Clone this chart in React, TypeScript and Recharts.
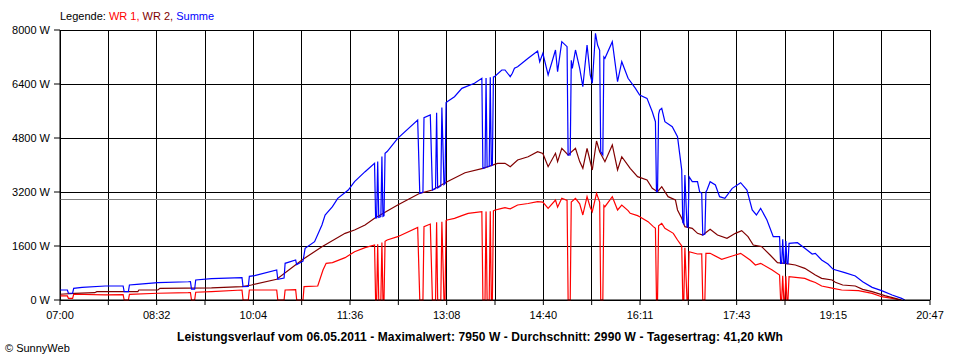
import { LineChart, Line, XAxis, YAxis, CartesianGrid, ReferenceLine } from "recharts"

// Werte: [Uhrzeit, Leistung in W]
const wr1Werte: [string, number][] = [
  ["07:00", 120], ["07:07", 120], ["07:08", 50], ["07:12", 50], ["07:13", 170], ["07:43", 150],
  ["08:00", 160], ["08:01", 0], ["08:05", 0], ["08:06", 165], ["08:33", 200], ["09:02", 217],
  ["09:04", 220], ["09:05", 0], ["09:08", 0], ["09:09", 230], ["09:24", 246], ["09:53", 296],
  ["09:54", 0], ["09:59", 0], ["10:00", 296], ["10:26", 296], ["10:27", 0], ["10:33", 0],
  ["10:34", 296], ["10:44", 310], ["10:45", 0], ["10:51", 0], ["10:52", 395], ["11:05", 415],
  ["11:10", 889], ["11:13", 1087], ["11:19", 1106], ["11:31", 1254], ["11:40", 1432], ["11:50", 1550],
  ["11:59", 1630], ["12:00", 0], ["12:01", 0], ["12:02", 1650], ["12:03", 0], ["12:05", 0],
  ["12:06", 1700], ["12:07", 0], ["12:08", 0], ["12:09", 1740], ["12:11", 1778], ["12:21", 1876],
  ["12:40", 2153], ["12:42", 0], ["12:45", 0], ["12:46", 2170], ["12:52", 2250], ["12:54", 0],
  ["12:57", 0], ["12:58", 2300], ["12:59", 0], ["13:02", 0], ["13:03", 2320], ["13:05", 0],
  ["13:06", 0], ["13:07", 2350], ["13:08", 2370], ["13:15", 2420], ["13:22", 2500], ["13:28", 2568],
  ["13:41", 2617], ["13:42", 0], ["13:44", 0], ["13:45", 2620], ["13:46", 0], ["13:48", 0],
  ["13:49", 2630], ["13:50", 0], ["13:51", 0], ["13:52", 2640], ["13:53", 2660], ["14:00", 2716],
  ["14:03", 2735], ["14:08", 2700], ["14:15", 2815], ["14:25", 2860], ["14:34", 2913], ["14:39", 2900],
  ["14:44", 2716], ["14:51", 2963], ["14:53", 2750], ["14:57", 3013], ["15:02", 2950], ["15:03", 0],
  ["15:05", 0], ["15:06", 2900], ["15:10", 3013], ["15:14", 2850], ["15:17", 2519], ["15:21", 3062],
  ["15:24", 2750], ["15:26", 2617], ["15:30", 3161], ["15:33", 2900], ["15:34", 0], ["15:36", 0],
  ["15:37", 2800], ["15:38", 2765], ["15:45", 3062], ["15:50", 2667], ["15:54", 2815], ["16:00", 2650],
  ["16:02", 2568], ["16:09", 2500], ["16:11", 2469], ["16:19", 2321], ["16:24", 2173], ["16:26", 2124],
  ["16:27", 0], ["16:28", 0], ["16:29", 2200], ["16:32", 2272], ["16:35", 2124], ["16:43", 1975],
  ["16:47", 1778], ["16:51", 1600], ["16:52", 0], ["16:53", 0], ["16:54", 1550], ["16:56", 0],
  ["16:57", 0], ["16:58", 1432], ["17:06", 1363], ["17:10", 1370], ["17:11", 0], ["17:13", 0],
  ["17:14", 1380], ["17:18", 1383], ["17:29", 1206], ["17:39", 1304], ["17:47", 1383], ["17:56", 1185],
  ["18:01", 1037], ["18:06", 1087], ["18:17", 889], ["18:24", 741], ["18:25", 0], ["18:26", 0],
  ["18:27", 720], ["18:28", 0], ["18:29", 0], ["18:30", 700], ["18:31", 0], ["18:32", 0],
  ["18:33", 691], ["18:48", 642], ["18:53", 573], ["18:58", 520], ["19:04", 415], ["19:15", 346],
  ["19:23", 296], ["19:39", 277], ["19:52", 198], ["20:01", 98], ["20:11", 50], ["20:19", 0],
]

const wr2Werte: [string, number][] = [
  ["07:00", 170], ["07:14", 198], ["07:33", 217], ["07:35", 246], ["08:14", 250], ["08:15", 296],
  ["08:33", 300], ["08:35", 346], ["09:24", 360], ["09:53", 395], ["10:02", 444], ["10:26", 613],
  ["10:50", 1185], ["11:09", 1580], ["11:31", 1975], ["11:40", 2074], ["11:50", 2222], ["11:59", 2420],
  ["12:21", 2815], ["12:42", 3161], ["12:54", 3259], ["13:08", 3506], ["13:25", 3772], ["13:42", 3902],
  ["13:56", 4050], ["14:03", 4050], ["14:08", 3950], ["14:15", 4148], ["14:25", 4246], ["14:34", 4394],
  ["14:39", 4340], ["14:44", 3950], ["14:51", 4346], ["14:53", 4100], ["14:57", 4494], ["15:03", 4296],
  ["15:10", 4494], ["15:14", 4100], ["15:17", 3902], ["15:21", 4494], ["15:26", 3852], ["15:30", 4711],
  ["15:33", 4394], ["15:38", 4098], ["15:45", 4593], ["15:50", 3852], ["15:54", 4246], ["16:02", 3902],
  ["16:09", 3654], ["16:18", 3556], ["16:23", 3309], ["16:28", 3210], ["16:32", 3358], ["16:38", 3062],
  ["16:45", 2963], ["16:47", 2667], ["16:51", 2420], ["16:54", 2173], ["17:01", 2124], ["17:06", 1975],
  ["17:11", 1926], ["17:18", 2094], ["17:25", 1926], ["17:34", 1827], ["17:42", 1975], ["17:48", 2055],
  ["17:54", 1876], ["17:59", 1630], ["18:07", 1580], ["18:15", 1333], ["18:22", 1106], ["18:29", 1087],
  ["18:39", 1037], ["18:48", 938], ["18:58", 740], ["19:04", 642], ["19:14", 593], ["19:17", 524],
  ["19:24", 444], ["19:36", 415], ["19:43", 316], ["19:52", 246], ["20:04", 128], ["20:14", 50],
  ["20:20", 0],
]

const summeWerte: [string, number][] = [
  ["07:00", 296], ["07:07", 296], ["07:08", 200], ["07:12", 200], ["07:13", 346], ["07:21", 376],
  ["07:43", 415], ["08:00", 415], ["08:01", 250], ["08:05", 250], ["08:06", 444], ["08:13", 465],
  ["08:33", 513], ["09:02", 540], ["09:04", 545], ["09:05", 320], ["09:08", 320], ["09:09", 593],
  ["09:24", 632], ["09:53", 661], ["09:54", 395], ["09:59", 400], ["10:00", 700], ["10:05", 721],
  ["10:26", 889], ["10:27", 613], ["10:33", 650], ["10:34", 1087], ["10:44", 1185], ["10:45", 1050],
  ["10:51", 1150], ["10:53", 1531], ["11:02", 1728], ["11:09", 2222], ["11:12", 2519], ["11:19", 2765],
  ["11:24", 3013], ["11:34", 3259], ["11:40", 3506], ["11:50", 3802], ["11:59", 4050], ["12:00", 2430],
  ["12:01", 2430], ["12:02", 4100], ["12:03", 2450], ["12:05", 2470], ["12:06", 4250], ["12:07", 2480],
  ["12:08", 2500], ["12:09", 4346], ["12:11", 4400], ["12:21", 4790], ["12:40", 5333], ["12:42", 3161],
  ["12:45", 3200], ["12:46", 5400], ["12:52", 5481], ["12:54", 3259], ["12:57", 3300], ["12:58", 5550],
  ["12:59", 3320], ["13:02", 3380], ["13:03", 5700], ["13:05", 3420], ["13:06", 3450], ["13:07", 5850],
  ["13:08", 5876], ["13:15", 6024], ["13:22", 6272], ["13:34", 6420], ["13:41", 6568], ["13:42", 3902],
  ["13:44", 3920], ["13:45", 6580], ["13:46", 3940], ["13:48", 3960], ["13:49", 6600], ["13:50", 3980],
  ["13:51", 4000], ["13:52", 6610], ["13:53", 6617], ["14:00", 6815], ["14:03", 6815], ["14:08", 6617],
  ["14:10", 6717], ["14:12", 6865], ["14:15", 6913], ["14:25", 7161], ["14:34", 7378], ["14:36", 7061],
  ["14:39", 7310], ["14:44", 6667], ["14:51", 7408], ["14:53", 6765], ["14:57", 7654], ["15:02", 7506],
  ["15:03", 4296], ["15:05", 4300], ["15:06", 7100], ["15:07", 6865], ["15:10", 7408], ["15:14", 6865],
  ["15:17", 6320], ["15:21", 7556], ["15:24", 6667], ["15:26", 6420], ["15:29", 7902], ["15:31", 7556],
  ["15:33", 7400], ["15:34", 4394], ["15:36", 4300], ["15:37", 7200], ["15:38", 7161], ["15:45", 7654],
  ["15:50", 6469], ["15:54", 7061], ["16:00", 6568], ["16:07", 6272], ["16:11", 6074], ["16:18", 5975],
  ["16:23", 5579], ["16:26", 5283], ["16:27", 3210], ["16:28", 3210], ["16:29", 5500], ["16:30", 5630],
  ["16:32", 5680], ["16:35", 5283], ["16:42", 5135], ["16:47", 4839], ["16:49", 4346], ["16:51", 3852],
  ["16:52", 2300], ["16:53", 2250], ["16:54", 3700], ["16:56", 2173], ["16:57", 2150], ["16:58", 3654],
  ["17:01", 3506], ["17:06", 3506], ["17:08", 3210], ["17:10", 3161], ["17:11", 1926], ["17:13", 1950],
  ["17:14", 3200], ["17:15", 3259], ["17:18", 3506], ["17:23", 3408], ["17:27", 3062], ["17:32", 3013],
  ["17:39", 3309], ["17:47", 3476], ["17:53", 3259], ["17:58", 2667], ["18:02", 2519], ["18:06", 2716],
  ["18:12", 2370], ["18:18", 1876], ["18:24", 1876], ["18:25", 1087], ["18:26", 1087], ["18:27", 1800],
  ["18:28", 1087], ["18:29", 1087], ["18:30", 1750], ["18:31", 1080], ["18:32", 1080], ["18:33", 1680],
  ["18:41", 1698], ["18:48", 1531], ["18:55", 1363], ["18:58", 1383], ["19:04", 1185], ["19:10", 1067],
  ["19:15", 909], ["19:26", 810], ["19:36", 711], ["19:43", 543], ["19:52", 375], ["20:01", 277],
  ["20:11", 148], ["20:20", 50], ["20:23", 0],
]

const yTicks = [0, 1600, 3200, 4800, 6400, 8000]
const xLabels = ["07:00", "08:32", "10:04", "11:36", "13:08", "14:40", "16:11", "17:43", "19:15", "20:47"]
const durchschnitt = 2990
const titel = "Leistungsverlauf vom 06.05.2011 - Maximalwert: 7950 W - Durchschnitt: 2990 W - Tagesertrag: 41,20 kWh"

const START = 7 * 60
const ENDE = 20 * 60 + 47
const STEP = (ENDE - START) / 18
const gridTicks = Array.from({ length: 19 }, (_, k) => START + k * STEP)

const FONT = "'Liberation Sans', Arial, sans-serif"

function toMin(s: string) {
  const [h, m] = s.split(":")
  return Number(h) * 60 + Number(m)
}

function toRows(werte: [string, number][]) {
  return werte.map(([t, v]) => ({ t: toMin(t), v }))
}

const wr1 = toRows(wr1Werte)
const wr2 = toRows(wr2Werte)
const summe = toRows(summeWerte)

export default function App() {
  return (
    <div style={{ position: "relative", width: 960, height: 360, background: "#fff", fontFamily: FONT }}>
      <style>{`body{margin:0}`}</style>

      {/* legende oben */}
      <div style={{ position: "absolute", left: 60, top: 11, fontSize: 11, lineHeight: "11px", whiteSpace: "nowrap" }}>
        <span style={{ color: "#000" }}>Legende: </span>
        <span style={{ color: "#ff0000" }}>WR 1, </span>
        <span style={{ color: "#800000" }}>WR 2, </span>
        <span style={{ color: "#0000ff" }}>Summe</span>
      </div>

      <LineChart width={960} height={360} margin={{ top: 30, right: 30, bottom: 30, left: 0 }}>
        <CartesianGrid stroke="#000" strokeWidth={1} horizontal vertical shapeRendering="crispEdges" />
        <XAxis
          dataKey="t"
          type="number"
          domain={[START, ENDE]}
          ticks={gridTicks}
          interval={0}
          height={30}
          tickSize={5}
          tickMargin={6}
          axisLine={{ stroke: "#000" }}
          tickLine={{ stroke: "#000" }}
          tick={{ fill: "#000", fontSize: 11, fontFamily: FONT }}
          tickFormatter={(v: number) => {
            const k = Math.round((v - START) / STEP)
            return k % 2 === 0 ? xLabels[k / 2] : ""
          }}
        />
        <YAxis
          type="number"
          domain={[0, 8000]}
          ticks={yTicks}
          interval={0}
          width={60}
          tickSize={6}
          tickMargin={4}
          axisLine={{ stroke: "#000" }}
          tickLine={{ stroke: "#000" }}
          tick={{ fill: "#000", fontSize: 11, fontFamily: FONT }}
          tickFormatter={(v: number) => `${v} W`}
        />
        <ReferenceLine y={durchschnitt} stroke="#808080" strokeWidth={1} shapeRendering="crispEdges" />
        <Line data={wr1} dataKey="v" type="linear" stroke="#ff0000" strokeWidth={1.2} dot={false} activeDot={false} isAnimationActive={false} />
        <Line data={wr2} dataKey="v" type="linear" stroke="#800000" strokeWidth={1.2} dot={false} activeDot={false} isAnimationActive={false} />
        <Line data={summe} dataKey="v" type="linear" stroke="#0000ff" strokeWidth={1.2} dot={false} activeDot={false} isAnimationActive={false} />
      </LineChart>

      {/* titelzeile unten */}
      <div style={{ position: "absolute", left: 0, top: 331, width: 960, textAlign: "center", fontSize: 12, lineHeight: "12px", fontWeight: "bold", whiteSpace: "nowrap", letterSpacing: 0.1 }}>
        {titel}
      </div>
      <div style={{ position: "absolute", left: 5, top: 343, fontSize: 11, lineHeight: "11px", whiteSpace: "nowrap" }}>
        © SunnyWeb
      </div>
    </div>
  )
}
